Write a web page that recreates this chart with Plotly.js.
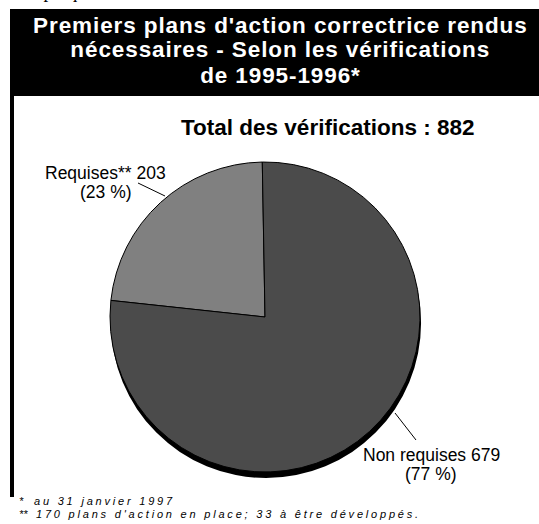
<!DOCTYPE html>
<html>
<head>
<meta charset="utf-8">
<script src="https://cdn.plot.ly/plotly-3.0.1.min.js"></script>
<style>
  html, body { margin: 0; padding: 0; background: #ffffff; }
  #chart { width: 539px; height: 524px; }
</style>
</head>
<body>
<div id="chart"></div>
<script>
// ---- Data ----
const categories = ['Requises**', 'Non requises'];
const counts = [203, 679];
const percents = [23, 77];
const total = 882;
const titleLines = [
  "Premiers plans d'action correctrice rendus",
  "nécessaires - Selon les vérifications",
  "de 1995-1996*"
];
const subtitle = 'Total des vérifications : ' + total;
const footMarks = ['*', '**'];
const footTexts = ['au 31 janvier 1997', "170 plans d'action en place; 33 à être développés."];
const headerText = 'Graphique 6';

// ---- Geometry / styling ----
const W = 539, H = 524;
const FONT = 'Liberation Sans, Arial, Helvetica, sans-serif';
const px = (x) => x / W;
const py = (y) => 1 - y / H;

const cx = 265, cy = 317, r = 155;
const shadowDx = 1, shadowDy = 6;

const pieDomain = (ox, oy) => ({
  x: [px(ox - r), px(ox + r)],
  y: [py(oy + r), py(oy - r)]
});

const shadow = {
  type: 'pie',
  values: [total],
  labels: ['total'],
  marker: { colors: ['#000000'], line: { color: '#000000', width: 0 } },
  textinfo: 'none',
  hoverinfo: 'skip',
  sort: false,
  showlegend: false,
  domain: pieDomain(cx + shadowDx, cy + shadowDy)
};

// first slice (Requises) runs counter-clockwise from 12 o'clock
const pie = {
  type: 'pie',
  values: counts,
  labels: categories,
  marker: { colors: ['#808080', '#4b4b4b'], line: { color: '#000000', width: 1 } },
  textinfo: 'none',
  hoverinfo: 'label+value+percent',
  sort: false,
  direction: 'counterclockwise',
  rotation: -360 * counts[0] / total - 1,
  showlegend: false,
  domain: pieDomain(cx, cy)
};

const annotations = [];
const spacedCss = [];
// header (cropped at top)
annotations.push({
  text: headerText, xref: 'paper', yref: 'paper',
  x: px(13), y: 1, xanchor: 'left', yanchor: 'bottom', yshift: -4,
  showarrow: false, font: { family: 'Liberation Serif, Times New Roman, serif', size: 19, color: '#000' }
});
// title lines
const titleY = [25, 50, 75];
titleLines.forEach((t, i) => {
  spacedCss.push({ idx: annotations.length, ls: 0.9 });
  annotations.push({
    text: '<b>' + t + '</b>', xref: 'paper', yref: 'paper',
    x: px(280), y: py(titleY[i]), xanchor: 'center', yanchor: 'middle',
    showarrow: false, font: { family: FONT, size: 22.5, color: '#ffffff' }
  });
});
// subtitle
annotations.push({
  text: '<b>' + subtitle + '</b>', xref: 'paper', yref: 'paper',
  x: px(327), y: py(128), xanchor: 'center', yanchor: 'middle',
  showarrow: false, font: { family: FONT, size: 22.5, color: '#000' }
});
// slice labels
const labelPos = [
  { x: 106, y1: 173, y2: 192 },
  { x: 431, y1: 455, y2: 474 }
];
categories.forEach((c, i) => {
  annotations.push({
    text: c + ' ' + counts[i], xref: 'paper', yref: 'paper',
    x: px(labelPos[i].x), y: py(labelPos[i].y1), xanchor: 'center', yanchor: 'middle',
    showarrow: false, font: { family: FONT, size: 17.5, color: '#000' }
  });
  annotations.push({
    text: '(' + percents[i] + ' %)', xref: 'paper', yref: 'paper',
    x: px(labelPos[i].x), y: py(labelPos[i].y2), xanchor: 'center', yanchor: 'middle',
    showarrow: false, font: { family: FONT, size: 17.5, color: '#000' }
  });
});
// footnotes
const footY = [501, 514];
const footX = [32, 34];
const footSpacing = [2.8, 2.8];
footMarks.forEach((m, i) => {
  annotations.push({
    text: '<i>' + m + '</i>', xref: 'paper', yref: 'paper',
    x: px(17), y: py(footY[i]), xanchor: 'left', yanchor: 'middle', align: 'left',
    showarrow: false, font: { family: FONT, size: 11, color: '#000' }
  });
  spacedCss.push({ idx: annotations.length, ls: footSpacing[i] });
  annotations.push({
    text: '<i>' + footTexts[i] + '</i>', xref: 'paper', yref: 'paper',
    x: px(footX[i]), y: py(footY[i]), xanchor: 'left', yanchor: 'middle', align: 'left',
    showarrow: false, font: { family: FONT, size: 11, color: '#000' }
  });
});
// letter spacing to match the reference's wide lettering
const st = document.createElement('style');
st.textContent = spacedCss.map(s =>
  'g.annotation[data-index="' + s.idx + '"] text { letter-spacing: ' + s.ls + 'px; }').join('\n');
document.head.appendChild(st);

const shapes = [
  // black title band
  { type: 'rect', xref: 'paper', yref: 'paper', x0: px(10), x1: 1, y0: py(96), y1: py(9),
    fillcolor: '#000', line: { width: 0 }, layer: 'below' },
  // left frame bar
  { type: 'rect', xref: 'paper', yref: 'paper', x0: px(10), x1: px(14), y0: py(497), y1: py(96),
    fillcolor: '#000', line: { width: 0 }, layer: 'below' },
  // leader lines
  { type: 'line', xref: 'paper', yref: 'paper', x0: px(138), y0: py(183), x1: px(165), y1: py(196),
    line: { color: '#000', width: 1 } },
  { type: 'line', xref: 'paper', yref: 'paper', x0: px(395), y0: py(413), x1: px(416), y1: py(440),
    line: { color: '#000', width: 1 } }
];

const layout = {
  width: W, height: H,
  margin: { l: 0, r: 0, t: 0, b: 0, pad: 0 },
  paper_bgcolor: '#ffffff',
  plot_bgcolor: '#ffffff',
  showlegend: false,
  annotations: annotations,
  shapes: shapes,
  font: { family: FONT }
};

Plotly.newPlot('chart', [shadow, pie], layout, { displayModeBar: false, staticPlot: true });
</script>
</body>
</html>
